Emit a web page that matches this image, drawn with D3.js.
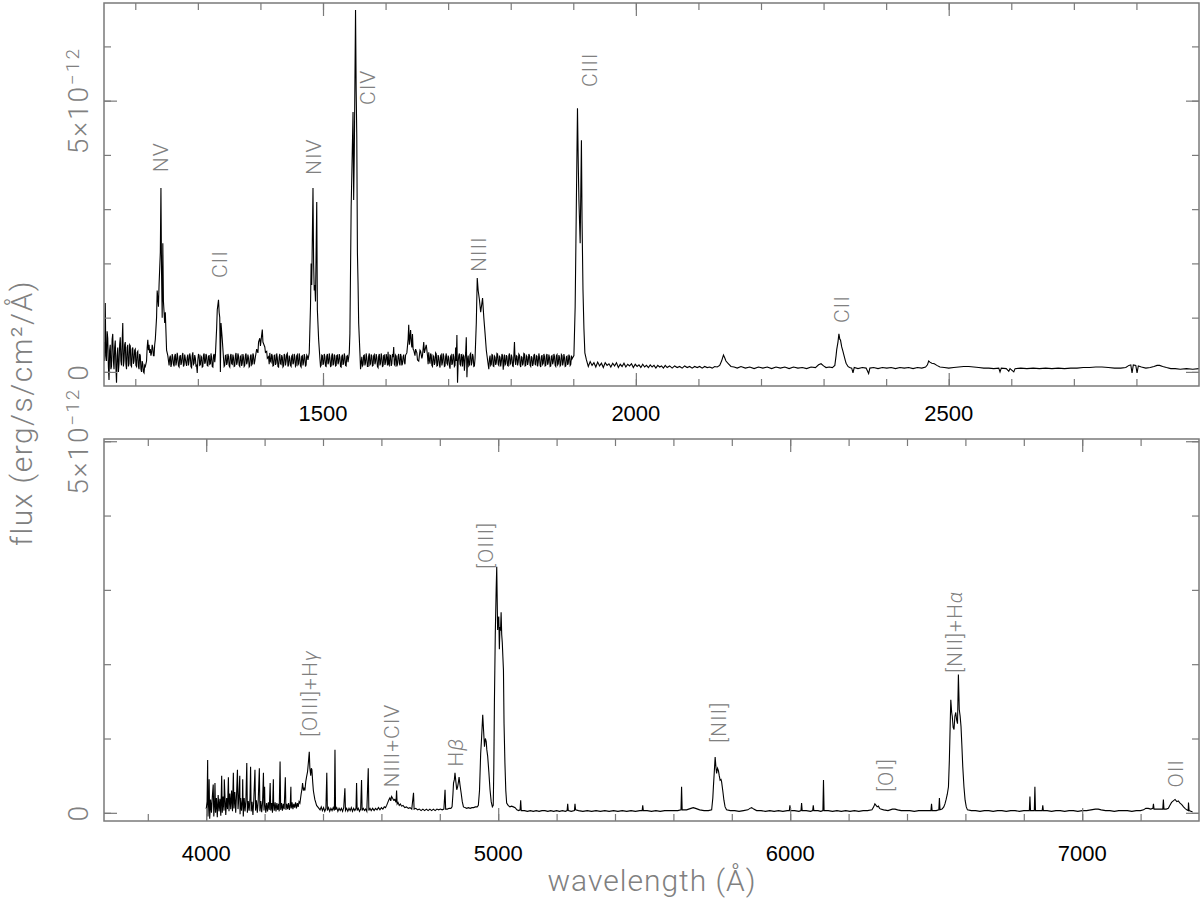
<!DOCTYPE html>
<html>
<head>
<meta charset="utf-8">
<title>Spectrum</title>
<script src="https://cdn.jsdelivr.net/npm/d3@7"></script>
<style>
  body { margin: 0; background: #fff; }
  svg { display: block; }
  .hershey { font-family: Roboto, "DejaVu Sans", sans-serif; font-weight: 300; fill: #808080; }
  .tick-num { font-family: "Liberation Sans", Arial, sans-serif; font-size: 22px; fill: #000; }
  .ticks { color: #7a7a7a; }
</style>
</head>
<body>
<div id="chart"></div>
<script>
// ---- data (flux in units of 1e-12 erg/s/cm2/A) ----

const uvWaveRange = [1150, 2900];
const uvFluxRange = [-0.26, 6.8];
const uvMajorTicks = [1500, 2000, 2500];
const uvFluxTicks = [0, 1, 2, 3, 4, 5, 6];

const optWaveRange = [3650, 7400];
const optFluxRange = [-0.11, 5.03];
const optMajorTicks = [4000, 5000, 6000, 7000];
const optFluxTicks = [0, 1, 2, 3, 4, 5];

const fluxMajorTicks = [0, 5];

const uvSpectrum = [
  [1150,0.55],[1151,0.2],[1152,1.27],[1153,0.3],[1154,0.2],[1155,0.75],[1156,0.62],[1157,0.1],[1158,-0.15],[1159,0.4],
  [1160,0.5],[1161,0.05],[1162,0.1],[1163,0.6],[1164,0.7],[1165,0.2],[1166,0.05],[1167,0.45],[1168,0.58],[1169,0.1],
  [1170,-0.2],[1171,0.3],[1172,0.45],[1173,0.0],[1174,0.15],[1175,0.5],[1176,0.64],[1177,0.2],[1178,0.12],[1179,0.55],
  [1180,0.9],[1181,0.1],[1182,0.2],[1183,0.5],[1184,0.55],[1185,0.15],[1186,0.05],[1187,0.45],[1188,0.5],[1189,0.1],
  [1190,0.15],[1191,0.5],[1192,0.48],[1193,0.12],[1194,0.1],[1195,0.42],[1196,0.45],[1197,0.15],[1198,0.2],[1199,0.4],
  [1200,0.42],[1201,0.12],[1202,0.1],[1203,0.36],[1204,0.38],[1205,0.1],[1206,0.05],[1207,0.33],[1208,0.3],[1209,0.05],
  [1210,0.0],[1211,0.2],[1212,0.15],[1213,0.0],[1214,-0.02],[1215,0.12],[1216,0.1],[1217,0.15],[1218,0.2],[1219,0.45],
  [1220,0.59],[1221,0.4],[1222,0.5],[1223,0.35],[1224,0.42],[1225,0.3],[1226,0.35],[1227,0.5],[1228,0.45],[1229,0.3],
  [1230,0.3],[1231,0.5],[1232,0.6],[1234,1.0],[1235,1.5],[1237,1.2],[1238,1.6],[1240,2.2],[1241,3.39],[1242,1.8],
  [1243,1.0],[1244,2.37],[1245,1.3],[1247,0.9],[1248,1.1],[1250,0.4],[1252,0.3],
  [1254,0.12],[1255,0.26],[1256,0.30],[1257,0.09],[1258,0.15],[1259,0.33],[1260,0.27],[1261,0.14],[1262,0.10],[1263,0.29],
  [1264,0.33],[1265,0.12],[1266,0.19],[1267,0.35],[1268,0.26],[1269,0.11],[1270,0.09],[1271,0.28],[1272,0.31],[1273,0.13],
  [1274,0.17],[1275,0.30],[1276,0.35],[1277,0.10],[1278,0.13],[1279,0.32],[1280,0.24],[1281,0.16],[1282,0.11],[1283,0.27],
  [1284,0.32],[1285,0.12],[1286,0.20],[1287,0.34],[1288,0.28],[1289,0.10],[1290,0.08],[1291,0.30],[1292,0.36],[1293,0.14],
  [1294,0.16],[1295,0.31],[1296,0.25],[1297,0.11],[1298,0.12],[1299,-0.02],[1300,0.22],[1301,0.33],[1302,0.30],[1303,0.12],
  [1304,0.13],[1305,0.29],[1306,0.27],[1307,0.09],[1308,0.10],[1309,0.31],[1310,0.34],[1311,0.15],[1312,0.18],[1313,0.33],
  [1314,0.29],[1315,0.12],[1316,0.11],[1317,0.28],[1318,0.31],[1319,0.14],[1320,0.15],[1321,0.34],[1322,0.26],[1323,0.10],
  [1324,0.09],[1325,0.30],[1326,0.33],[1327,0.18],[1328,0.30],
  [1330,0.8],[1331,1.14],[1333,1.33],[1334,1.1],[1335,1.0],[1336,0.0],[1337,0.9],[1339,0.6],
  [1341,0.25],[1342,0.10],[1343,0.12],[1344,0.30],[1345,0.31],[1346,0.13],[1347,0.17],[1348,0.33],[1349,0.28],[1350,0.11],
  [1351,0.09],[1352,0.29],[1353,0.33],[1354,0.15],[1355,0.14],[1356,0.32],[1357,0.26],[1358,0.10],[1359,0.11],[1360,0.30],
  [1361,0.35],[1362,0.13],[1363,0.18],[1364,0.34],[1365,0.29],[1366,0.12],[1367,0.10],[1368,0.28],[1369,0.30],[1370,0.11],
  [1371,0.16],[1372,0.33],[1373,0.27],[1374,0.10],[1375,0.12],[1376,0.31],[1377,0.34],[1378,0.14],[1379,0.19],[1380,0.32],
  [1381,0.25],[1382,0.09],[1383,0.11],[1384,0.29],[1385,0.32],[1386,0.13],[1387,0.15],[1388,0.34],[1389,0.30],[1390,0.14],
  [1391,0.20],[1392,0.28],
  [1394,0.42],[1396,0.35],[1397,0.55],[1399,0.62],[1400,0.48],[1401,0.58],[1403,0.78],[1404,0.55],[1405,0.52],[1407,0.46],
  [1408,0.36],[1410,0.38],[1411,0.25],[1413,0.28],[1414,0.14],[1415,0.35],[1416,0.20],[1417,0.18],[1418,0.33],[1419,0.29],
  [1420,0.11],[1421,0.12],[1422,0.30],[1423,0.31],[1424,0.13],[1425,0.16],[1426,0.34],[1427,0.26],[1428,0.10],[1429,0.09],
  [1430,0.28],[1431,0.33],[1432,0.15],[1433,0.14],[1434,0.31],[1435,0.27],[1436,0.09],[1437,0.11],[1438,0.33],[1439,0.30],
  [1440,0.12],[1441,0.19],[1442,0.32],[1443,0.34],[1444,0.10],[1445,0.13],[1446,0.30],[1447,0.25],[1448,0.12],[1449,0.10],
  [1450,0.29],[1451,0.31],[1452,0.14],[1453,0.17],[1454,0.33],[1455,0.28],[1456,0.10],[1457,0.12],[1458,0.30],[1459,0.32],
  [1460,0.13],[1461,0.15],[1462,0.34],[1463,0.26],[1464,0.11],[1465,0.09],[1466,0.29],[1467,0.30],[1468,0.12],[1469,0.18],
  [1470,0.33],[1471,0.27],[1472,0.10],[1473,0.13],[1474,0.31],[1475,0.29],[1476,0.22],
  [1478,0.35],[1480,1.2],[1481,2.0],[1482,1.6],[1484,3.39],[1485,2.0],[1486,1.5],[1487,1.6],[1488,1.3],[1490,3.13],
  [1491,1.14],[1493,0.6],
  [1495,0.25],[1496,0.10],[1497,0.12],[1498,0.31],[1499,0.30],[1500,0.13],[1501,0.16],[1502,0.33],[1503,0.28],[1504,0.11],
  [1505,0.10],[1506,0.29],[1507,0.33],[1508,0.14],[1509,0.18],[1510,0.34],[1511,0.26],[1512,0.10],[1513,0.11],[1514,0.30],
  [1515,0.34],[1516,0.12],[1517,0.15],[1518,0.32],[1519,0.29],[1520,0.11],[1521,0.12],[1522,0.30],[1523,0.31],[1524,0.14],
  [1525,0.19],[1526,0.33],[1527,0.27],[1528,0.10],[1529,0.09],[1530,0.28],[1531,0.32],[1532,0.13],[1533,0.16],[1534,0.34],
  [1535,0.28],[1536,0.12],[1537,0.11],[1538,0.29],[1539,0.30],[1540,0.18],
  [1542,0.35],[1543,0.71],[1545,3.04],[1546,3.6],[1548,4.79],[1549,3.17],[1550,4.0],[1552,6.67],[1553,5.2],[1554,4.33],
  [1555,2.2],[1556,1.64],[1557,0.9],[1559,0.35],[1560,0.05],
  [1562,0.28],[1563,0.11],[1564,0.13],[1565,0.30],[1566,0.31],[1567,0.12],[1568,0.17],[1569,0.34],[1570,0.26],[1571,0.10],
  [1572,0.10],[1573,0.29],[1574,0.34],[1575,0.13],[1576,0.15],[1577,0.32],[1578,0.29],[1579,0.11],[1580,0.12],[1581,0.30],
  [1582,0.32],[1583,0.14],[1584,0.19],[1585,0.33],[1586,0.27],[1587,0.10],[1588,0.08],[1589,0.29],[1590,0.33],[1591,0.12],
  [1592,0.16],[1593,0.34],[1594,0.28],[1595,0.10],[1596,0.11],[1597,0.30],[1598,0.31],[1599,0.13],[1600,0.18],[1601,0.33],
  [1602,0.26],[1603,0.12],[1604,0.37],[1605,0.14],[1606,0.12],[1607,0.31],[1608,0.30],[1609,0.11],[1610,0.15],[1611,0.33],
  [1612,0.27],[1613,0.46],[1614,0.14],[1615,0.12],[1616,0.31],[1617,0.29],[1618,0.10],[1619,0.14],[1620,0.29],[1621,0.33],
  [1622,0.16],[1623,0.12],[1624,0.33],[1625,0.28],[1626,0.12],[1627,0.15],[1628,0.28],[1629,0.32],[1630,0.18],[1631,0.14],
  [1632,0.31],[1634,0.35],
  [1636,0.6],[1637,0.87],[1638,0.5],[1640,0.77],[1641,0.55],[1642,0.45],[1643,0.7],[1644,0.42],[1645,0.4],[1647,0.3],
  [1648,0.42],[1650,0.35],[1651,0.22],[1653,0.2],[1655,0.4],[1656,0.38],[1658,0.25],[1659,0.3],[1661,0.55],[1662,0.35],
  [1663,0.4],[1665,0.5],[1667,0.3],[1668,0.14],[1669,0.36],[1670,0.22],[1671,0.15],[1672,0.34],[1673,0.31],[1674,0.12],
  [1675,0.10],[1676,0.30],[1677,0.28],[1678,0.13],[1679,0.17],[1680,0.35],[1681,0.33],[1682,0.11],[1683,0.12],[1684,0.31],
  [1685,0.27],[1686,0.14],[1687,0.08],[1688,0.30],[1689,0.32],[1690,0.12],[1691,0.18],[1692,0.34],[1693,0.29],[1694,0.10],
  [1695,0.11],[1696,0.28],[1697,0.34],[1698,0.16],[1699,0.14],[1700,0.30],[1701,0.26],[1702,0.11],[1703,0.06],[1704,0.29],
  [1705,0.31],[1706,0.13],[1707,0.16],[1708,0.33],[1709,0.28],[1710,0.10],[1711,0.12],[1712,0.45],[1713,0.20],[1714,0.68],
  [1715,-0.2],[1716,0.18],[1717,0.3],[1718,0.34],[1719,0.14],[1720,0.12],[1721,0.33],[1722,0.27],[1723,0.10],[1724,0.31],
  [1725,0.29],[1726,0.02],[1727,0.20],[1728,0.35],[1729,0.64],[1730,-0.1],[1731,0.22],[1732,0.3],[1733,0.11],[1734,0.13],
  [1735,0.32],[1736,0.34],[1737,0.12],[1738,0.17],[1739,0.33],[1740,0.28],[1741,0.10],[1742,0.11],[1743,0.25],
  [1745,0.9],[1746.5,1.73],[1748,1.5],[1750,1.33],[1752,1.1],[1755,1.36],[1757,1.0],[1759,0.71],[1761,0.4],[1763,0.22],
  [1765,0.05],[1766,0.24],[1767,0.3],[1768,0.12],[1769,0.14],[1770,0.32],[1771,0.31],[1772,0.11],[1773,0.10],[1774,0.29],
  [1775,0.27],[1776,0.13],[1777,0.17],[1778,0.34],[1779,0.33],[1780,0.14],[1781,0.12],[1782,0.30],[1783,0.26],[1784,0.10],
  [1785,0.19],[1786,0.33],[1787,0.30],[1788,0.04],[1789,0.20],[1790,0.32],[1791,0.13],[1792,0.15],[1793,0.31],[1794,0.28],
  [1795,0.12],[1796,0.11],[1797,0.30],[1798,0.34],[1799,0.14],[1800,0.16],[1801,0.32],[1802,0.27],[1803,0.11],[1804,0.10],
  [1805,0.30],[1806,0.55],[1807,0.20],[1808,0.13],[1809,0.30],[1810,0.29],[1811,0.12],[1812,0.18],[1813,0.33],[1814,0.31],
  [1815,0.13],[1816,0.09],[1817,0.28],[1818,0.27],[1819,0.12],[1820,0.16],[1821,0.34],[1822,0.33],[1823,0.11],[1824,0.12],
  [1825,0.30],[1826,0.28],[1827,0.13],[1828,0.19],[1829,0.33],[1830,0.30],[1831,0.12],[1832,0.10],[1833,0.29],[1834,0.26],
  [1835,0.11],[1836,0.15],[1837,0.31],[1838,0.32],[1839,0.14],[1840,0.13],[1841,0.30],[1842,0.29],[1843,0.10],[1844,0.18],
  [1845,0.34],[1846,0.27],[1847,0.12],[1848,0.09],[1849,0.28],[1850,0.31],[1851,0.14],[1852,0.16],[1853,0.33],[1854,0.28],
  [1855,0.11],[1856,0.12],[1857,0.30],[1858,0.33],[1859,0.13],[1860,0.17],[1861,0.32],[1862,0.26],[1863,0.10],[1864,0.11],
  [1865,0.29],[1866,0.30],[1867,0.14],[1868,0.19],[1869,0.33],[1870,0.28],[1871,0.12],[1872,0.10],[1873,0.30],[1874,0.32],
  [1875,0.13],[1876,0.15],[1877,0.31],[1878,0.27],[1879,0.11],[1880,0.13],[1881,0.32],[1882,0.30],[1883,0.12],[1884,0.18],
  [1885,0.33],[1886,0.26],[1887,0.10],[1888,0.11],[1889,0.28],[1890,0.29],[1891,0.13],[1892,0.16],[1893,0.32],[1894,0.28],
  [1895,0.12],[1896,0.14],[1897,0.30],[1898,0.24],
  [1901,0.3],[1903,1.2],[1904,2.19],[1905,3.2],[1906.7,4.86],[1908,3.8],[1909,3.17],[1911,2.37],[1912,3.3],[1913,4.27],
  [1914,2.8],[1915.5,1.51],[1917,0.8],[1918.5,0.35],
  [1921,0.22],[1924,0.10],[1927,0.19],[1930,0.12],[1933,0.17],[1936,0.09],[1939,0.18],[1942,0.11],[1945,0.16],[1948,0.08],
  [1951,0.17],[1954,0.12],[1957,0.15],[1960,0.09],[1963,0.16],[1966,0.11],[1969,0.17],[1972,0.08],[1975,0.14],[1978,0.10],
  [1981,0.16],[1984,0.09],[1987,0.14],[1990,0.11],[1993,0.15],[1996,0.08],[1999,0.14],[2002,0.10],[2005,0.13],[2008,0.08],
  [2011,0.14],[2014,0.09],[2017,0.12],[2020,0.08],[2023,0.13],[2026,0.09],[2029,0.12],[2032,0.07],[2035,0.12],[2038,0.09],
  [2041,0.11],[2044,0.07],[2047,0.12],[2050,0.08],[2054,0.11],[2058,0.07],[2062,0.11],[2066,0.08],[2070,0.10],[2074,0.07],
  [2078,0.11],[2082,0.08],[2086,0.10],[2090,0.07],[2094,0.10],[2098,0.08],[2102,0.10],[2106,0.07],[2110,0.10],[2114,0.08],
  [2118,0.09],[2122,0.07],[2126,0.10],[2130,0.09],[2134,0.12],
  [2137,0.2],[2140,0.31],[2142,0.26],[2144,0.2],[2148,0.15],[2152,0.1],[2157,0.09],[2162,0.07],
  [2168,0.1],[2175,0.07],[2182,0.09],[2189,0.06],[2196,0.09],[2203,0.07],[2210,0.09],[2217,0.06],[2224,0.09],[2231,0.07],
  [2238,0.09],[2245,0.06],[2252,0.09],[2259,0.07],[2266,0.08],[2273,0.06],[2280,0.09],[2287,0.08],[2292,0.13],[2296,0.15],
  [2300,0.11],[2304,0.08],[2309,0.09],[2314,0.08],
  [2318,0.12],[2320,0.3],[2321,0.41],[2323,0.55],[2324.5,0.70],[2326,0.6],[2327,0.59],[2329,0.46],[2331,0.38],[2332.5,0.31],
  [2335,0.2],[2336,0.16],[2339,0.1],[2341.5,0.08],[2345,0.07],[2347,-0.02],[2349,0.08],[2355,0.06],[2362,0.08],[2368,0.07],
  [2372,-0.03],[2374,0.07],[2380,0.08],[2387,0.06],[2394,0.08],[2401,0.07],[2408,0.08],[2415,0.06],[2422,0.08],[2429,0.07],
  [2436,0.08],[2443,0.06],[2450,0.08],[2457,0.07],[2463,0.09],
  [2466,0.13],[2468,0.2],[2470,0.18],[2473,0.16],[2477,0.15],[2481,0.12],[2486,0.09],[2493,0.08],[2500,0.07],[2508,0.08],
  [2516,0.09],[2524,0.1],[2532,0.1],[2540,0.09],[2548,0.08],[2556,0.07],[2564,0.07],[2572,0.06],[2580,0.07],[2582,0.0],
  [2584,0.07],[2592,0.06],[2596,0.01],[2598,0.06],[2604,0.0],[2606,0.06],[2615,0.07],[2625,0.06],[2635,0.07],[2645,0.06],
  [2655,0.07],[2665,0.06],[2675,0.07],[2685,0.06],[2695,0.07],[2705,0.07],[2715,0.08],[2725,0.08],[2735,0.09],[2745,0.09],
  [2755,0.08],[2765,0.07],[2775,0.07],[2783,0.08],[2788,0.12],[2791,0.13],[2793,-0.02],[2795,0.13],[2799,0.12],[2801,-0.02],
  [2803,0.11],[2808,0.09],[2815,0.07],[2822,0.08],[2828,0.1],[2833,0.12],[2837,0.12],[2842,0.1],[2848,0.08],[2855,0.06],
  [2862,0.06],[2870,0.05],[2880,0.06],[2890,0.05],[2900,0.06]
];

const optSpectrum = [
  [4000,0.05],[4003,0.15],[4005,0.71],[4006,-0.05],[4009,0.2],[4010,0.45],[4012,-0.08],[4015,0.18],[4018,0.0],[4021,0.22],
  [4024,0.38],[4026,-0.05],[4029,0.17],[4030,0.4],[4032,0.0],[4035,0.2],[4038,-0.06],[4041,0.24],[4044,0.02],[4047,0.19],
  [4050,-0.04],[4053,0.5],[4055,0.0],[4058,0.22],[4061,0.03],[4062,0.45],[4064,0.25],[4067,-0.03],[4070,0.2],[4073,0.05],
  [4076,0.48],[4078,0.02],[4081,0.26],[4084,0.05],[4087,0.3],[4090,0.02],[4093,0.54],[4095,0.06],[4098,0.28],[4101,0.0],
  [4104,0.25],[4107,0.58],[4109,0.05],[4112,0.22],[4115,0.5],[4116,-0.02],[4118,0.2],[4121,0.03],[4124,0.18],[4125,0.45],
  [4127,-0.05],[4130,0.2],[4133,0.02],[4136,0.17],[4139,0.67],[4141,0.0],[4144,0.16],[4147,0.03],[4150,0.2],[4152,0.62],
  [4154,0.02],[4157,0.15],[4160,-0.03],[4163,0.18],[4167,0.58],[4169,0.03],[4172,0.17],[4175,0.0],[4178,0.15],[4182,0.6],
  [4184,0.02],[4187,0.16],[4190,0.01],[4193,0.14],[4196,0.54],[4198,0.03],[4200,0.35],[4201,0.15],[4204,0.0],[4207,0.13],
  [4210,0.02],[4213,0.14],[4216,0.04],[4219,0.4],[4221,0.03],[4224,0.13],[4227,0.0],[4230,0.45],[4231,0.12],[4233,0.03],
  [4236,0.14],[4239,0.02],[4242,0.13],[4245,0.04],[4248,0.12],[4250,0.02],[4253,0.69],[4255,0.04],[4258,0.13],[4261,0.03],
  [4264,0.12],[4267,0.05],[4271,0.48],[4273,0.04],[4276,0.12],[4279,0.05],[4282,0.13],[4285,0.04],[4288,0.12],[4290,0.35],
  [4291,0.06],[4294,0.14],[4297,0.05],[4300,0.12],[4303,0.07],[4306,0.14],[4309,0.06],[4312,0.13],[4315,0.08],[4318,0.15],
  [4321,0.13],
  [4325,0.25],[4328,0.32],[4330,0.4],[4333,0.3],[4336,0.34],[4338,0.3],[4341,0.42],[4344,0.49],[4347,0.55],[4350,0.68],
  [4353,0.82],[4355,0.6],[4358,0.5],[4360,0.6],[4362,0.58],[4365,0.4],[4367,0.3],[4369,0.25],[4372,0.18],[4375,0.14],
  [4378,0.1],[4382,0.08],[4386,0.06],[4390,0.04],
  [4394,0.08],[4398,0.03],[4402,0.07],[4406,0.02],[4410,0.06],[4413,0.54],[4415,0.03],[4419,0.07],[4423,0.02],[4427,0.06],
  [4431,0.03],[4435,0.07],[4439,0.03],[4441,0.85],[4443,0.04],[4447,0.07],[4451,0.02],[4455,0.06],[4459,0.03],[4463,0.06],
  [4467,0.02],[4471,0.07],[4475,0.33],[4477,0.03],[4481,0.06],[4485,0.02],[4489,0.06],[4493,0.03],[4497,0.07],[4501,0.02],
  [4505,0.06],[4509,0.03],[4513,0.06],[4515,0.4],[4517,0.03],[4521,0.06],[4525,0.02],[4529,0.05],[4532,0.44],[4534,0.03],
  [4538,0.06],[4542,0.03],[4546,0.05],[4550,0.02],[4555,0.6],[4557,0.03],[4561,0.06],[4565,0.03],[4570,0.06],[4575,0.03],
  [4580,0.06],[4585,0.04],[4590,0.07],[4595,0.04],[4600,0.07],[4605,0.05],[4610,0.08],[4614,0.07],[4618,0.1],
  [4622,0.14],[4626,0.18],[4629,0.2],[4632,0.16],[4635,0.22],[4638,0.2],[4642,0.17],[4646,0.18],[4650,0.14],[4652,0.3],
  [4654,0.12],[4657,0.14],[4661,0.1],[4665,0.12],[4669,0.09],[4674,0.1],[4680,0.07],[4686,0.08],[4692,0.06],[4698,0.07],
  [4704,0.05],[4710,0.27],[4712,0.05],[4718,0.06],[4724,0.04],[4730,0.05],[4736,0.03],[4742,0.05],[4748,0.03],[4754,0.05],
  [4760,0.03],[4766,0.05],[4772,0.03],[4778,0.05],[4784,0.03],[4790,0.05],[4796,0.04],[4802,0.05],[4808,0.04],[4814,0.05],
  [4818,0.31],[4820,0.05],[4826,0.05],[4832,0.06],[4838,0.06],
  [4842,0.08],[4845,0.25],[4847,0.4],[4850,0.45],[4852,0.54],[4855,0.42],[4858,0.31],[4861,0.35],[4864,0.42],[4866,0.48],
  [4869,0.38],[4873,0.27],[4877,0.15],[4881,0.08],[4886,0.07],[4892,0.06],[4898,0.07],[4904,0.06],[4910,0.07],[4916,0.07],
  [4922,0.08],[4928,0.08],[4932,0.1],
  [4936,0.3],[4940,0.8],[4943,1.0],[4947,1.32],[4950,1.1],[4953,0.89],[4956,1.0],[4959,0.96],[4961,0.85],[4964,0.76],
  [4968,0.55],[4972,0.31],[4976,0.15],[4980,0.08],[4983,0.1],
  [4985,0.6],[4987,1.48],[4990,2.4],[4993,3.0],[4995,3.31],[4998,2.46],[5000,2.6],[5002,2.64],[5004,2.2],[5006,2.5],
  [5008,2.45],[5010,2.7],[5012,2.4],[5014,2.29],[5016,2.1],[5018,1.92],[5020,1.2],[5023,0.67],[5026,0.3],[5029,0.13],
  [5034,0.1],[5040,0.08],[5046,0.09],[5052,0.08],[5058,0.07],[5064,0.04],[5070,0.03],[5075,0.04],[5077,0.17],[5079,0.03],
  [5090,0.03],[5100,0.02],[5110,0.03],[5120,0.02],[5130,0.03],[5140,0.02],[5150,0.03],[5160,0.03],[5170,0.02],[5180,0.03],
  [5190,0.02],[5200,0.03],[5210,0.02],[5220,0.03],[5230,0.02],[5236,0.03],[5238,0.12],[5240,0.03],[5250,0.02],[5261,0.03],
  [5263,0.12],[5265,0.04],[5275,0.03],[5290,0.02],[5305,0.03],[5320,0.02],[5335,0.03],[5350,0.02],[5365,0.03],[5380,0.02],
  [5395,0.03],[5410,0.02],[5425,0.03],[5440,0.02],[5455,0.03],[5470,0.02],[5485,0.03],[5493,0.03],[5495,0.1],[5497,0.03],
  [5510,0.03],[5525,0.02],[5540,0.03],[5555,0.02],[5570,0.03],[5585,0.03],[5600,0.03],[5615,0.03],[5626,0.04],[5628,0.35],
  [5630,0.04],[5645,0.04],[5660,0.06],[5668,0.07],[5676,0.06],[5690,0.04],[5705,0.03],[5720,0.03],[5731,0.04],
  [5735,0.2],[5737,0.35],[5740,0.55],[5743,0.75],[5746,0.6],[5748,0.53],[5751,0.6],[5754,0.57],[5757,0.5],[5760,0.44],
  [5763,0.45],[5765,0.42],[5769,0.3],[5773,0.17],[5777,0.08],[5782,0.04],
  [5795,0.03],[5810,0.03],[5825,0.02],[5840,0.03],[5855,0.04],[5862,0.06],[5868,0.07],[5875,0.05],[5885,0.03],[5900,0.03],
  [5915,0.02],[5930,0.03],[5945,0.02],[5960,0.03],[5975,0.02],[5990,0.03],[5997,0.03],[5999,0.1],[6001,0.03],[6015,0.03],
  [6030,0.02],[6037,0.03],[6039,0.13],[6041,0.03],[6055,0.03],[6070,0.02],[6077,0.03],[6079,0.1],[6081,0.03],[6095,0.03],
  [6105,0.02],[6112,0.03],[6114,0.44],[6116,0.03],[6130,0.03],[6145,0.02],[6160,0.03],[6175,0.02],[6190,0.03],[6205,0.02],
  [6220,0.03],[6235,0.02],[6250,0.03],[6265,0.03],[6280,0.04],
  [6286,0.08],[6290,0.12],[6294,0.1],[6298,0.08],[6302,0.09],[6306,0.06],[6310,0.05],[6320,0.04],[6335,0.03],[6350,0.05],
  [6359,0.05],[6368,0.04],[6380,0.03],[6395,0.03],[6410,0.03],[6425,0.02],[6440,0.03],[6455,0.03],[6470,0.03],[6482,0.03],
  [6484,0.12],[6486,0.03],[6500,0.03],[6509,0.04],[6511,0.2],[6513,0.04],[6520,0.05],
  [6526,0.08],[6530,0.12],[6534,0.18],[6538,0.25],[6542,0.35],[6545,0.7],[6548,1.2],[6550,1.52],[6553,1.35],[6555,1.3],
  [6558,1.15],[6561,1.12],[6564,1.3],[6567,1.35],[6570,1.25],[6573,1.2],[6576,1.86],[6579,1.39],[6582,1.3],[6585,1.16],
  [6588,0.9],[6591,0.62],[6595,0.35],[6599,0.17],[6603,0.08],[6607,0.04],
  [6620,0.03],[6635,0.03],[6650,0.02],[6665,0.03],[6680,0.03],[6695,0.02],[6710,0.03],[6725,0.03],[6740,0.02],[6755,0.03],
  [6770,0.03],[6785,0.02],[6800,0.03],[6812,0.03],[6819,0.03],[6821,0.22],[6823,0.03],[6830,0.03],[6836,0.03],[6838,0.35],
  [6840,0.03],[6850,0.03],[6863,0.03],[6865,0.1],[6867,0.03],[6880,0.03],[6895,0.02],[6910,0.03],[6925,0.03],[6940,0.02],
  [6955,0.03],[6970,0.03],[6985,0.02],[7000,0.03],[7015,0.03],[7030,0.04],[7045,0.05],[7055,0.05],[7065,0.04],[7080,0.03],
  [7095,0.03],[7110,0.02],[7125,0.03],[7140,0.03],[7155,0.03],[7170,0.02],[7185,0.03],[7200,0.03],[7210,0.04],[7218,0.06],
  [7226,0.06],[7235,0.05],[7242,0.06],[7244,0.12],[7246,0.05],[7255,0.05],[7265,0.05],[7276,0.05],[7278,0.18],[7280,0.05],
  [7288,0.05],
  [7295,0.06],[7300,0.1],[7306,0.14],[7312,0.16],[7318,0.18],[7324,0.15],[7329,0.16],[7335,0.13],[7341,0.11],[7347,0.08],
  [7352,0.06],[7358,0.04],[7363,0.03],[7364,0.14],[7366,0.03],[7372,0.02],[7378,0.01]
];

// line identifications: label anchored at (wavelength, flux)
const uvLines = [
  { name: 'NV',   wave: 1240, flux: 3.68 },
  { name: 'CII',  wave: 1334, flux: 1.73 },
  { name: 'NIV',  wave: 1485, flux: 3.63 },
  { name: 'CIV',  wave: 1571, flux: 4.92 },
  { name: 'NIII', wave: 1749, flux: 1.84 },
  { name: 'CIII', wave: 1926, flux: 5.25 },
  { name: 'CII',  wave: 2328, flux: 0.90 },
];

const optLines = [
  { name: '[OIII]+Hγ', wave: 4352, flux: 1.02 },
  { name: 'NIII+CIV',  wave: 4636, flux: 0.34 },
  { name: 'Hβ',        wave: 4852, flux: 0.62 },
  { name: '[OIII]',    wave: 4958, flux: 3.28 },
  { name: '[NII]',     wave: 5753, flux: 0.94 },
  { name: '[OI]',      wave: 6325, flux: 0.28 },
  { name: '[NII]+Hα',  wave: 6564, flux: 1.88 },
  { name: 'OII',       wave: 7321, flux: 0.34 },
];

// ---- layout ----
const width = 1200;
const height = 900;

const panels = [
  {
    id: 'uv', data: uvSpectrum, lines: uvLines,
    xDomain: uvWaveRange, yDomain: uvFluxRange,
    xMajor: uvMajorTicks, xMinor: d3.range(1200, 2900, 100),
    yMinor: uvFluxTicks,
    box: { left: 104, right: 1199, top: 3, bottom: 386 },
    labelOffset: 35,
  },
  {
    id: 'opt', data: optSpectrum, lines: optLines,
    xDomain: optWaveRange, yDomain: optFluxRange,
    xMajor: optMajorTicks, xMinor: d3.range(3800, 7400, 200),
    yMinor: optFluxTicks,
    box: { left: 104, right: 1199, top: 439, bottom: 821 },
    labelOffset: 40,
  },
];

const svg = d3.select('#chart')
  .append('svg')
  .attr('width', width)
  .attr('height', height)
  .attr('viewBox', `0 0 ${width} ${height}`);

/**
 * Inward ticks on one side of a panel
 */
function addTicks(axisFn, scale, values, size, transform) {
  svg.append('g')
    .attr('class', 'ticks')
    .attr('transform', transform)
    .call(axisFn(scale).tickValues(values).tickSize(-size).tickFormat(''))
    .call(g => g.select('.domain').remove())
    .selectAll('line')
    .attr('stroke-width', 1.2);
}

/**
 * Label text with italic greek letters
 */
function addLabelText(sel, text) {
  const parts = text.split(/([αβγ])/).filter(s => s.length);
  parts.forEach(p => {
    const t = sel.append('tspan').text(p);
    if (/[αβγ]/.test(p)) t.attr('font-style', 'italic');
  });
}

function drawPanel(p) {
  const b = p.box;
  const x = d3.scaleLinear().domain(p.xDomain).range([b.left, b.right]);
  const y = d3.scaleLinear().domain(p.yDomain).range([b.bottom, b.top]);

  // clip for the spectrum
  svg.append('clipPath')
    .attr('id', `clip-${p.id}`)
    .append('rect')
    .attr('x', b.left).attr('y', b.top)
    .attr('width', b.right - b.left).attr('height', b.bottom - b.top);

  const line = d3.line()
    .x(d => x(d[0]))
    .y(d => y(d[1]));

  svg.append('path')
    .datum(p.data)
    .attr('clip-path', `url(#clip-${p.id})`)
    .attr('fill', 'none')
    .attr('stroke', '#000')
    .attr('stroke-width', 1.1)
    .attr('d', line);

  // ticks, all four sides
  addTicks(d3.axisBottom, x, p.xMinor, 7, `translate(0,${b.bottom})`);
  addTicks(d3.axisBottom, x, p.xMajor, 13, `translate(0,${b.bottom})`);
  addTicks(d3.axisTop, x, p.xMinor, 7, `translate(0,${b.top})`);
  addTicks(d3.axisTop, x, p.xMajor, 13, `translate(0,${b.top})`);
  addTicks(d3.axisLeft, y, p.yMinor, 7, `translate(${b.left},0)`);
  addTicks(d3.axisLeft, y, fluxMajorTicks, 13, `translate(${b.left},0)`);
  addTicks(d3.axisRight, y, p.yMinor, 7, `translate(${b.right},0)`);
  addTicks(d3.axisRight, y, fluxMajorTicks, 13, `translate(${b.right},0)`);

  // frame
  svg.append('rect')
    .attr('x', b.left).attr('y', b.top)
    .attr('width', b.right - b.left).attr('height', b.bottom - b.top)
    .attr('fill', 'none')
    .attr('stroke', '#7a7a7a')
    .attr('stroke-width', 1.5);

  // wavelength tick labels
  svg.append('g')
    .selectAll('text')
    .data(p.xMajor)
    .join('text')
    .attr('class', 'tick-num')
    .attr('x', d => x(d))
    .attr('y', b.bottom + p.labelOffset)
    .attr('text-anchor', 'middle')
    .text(d => d);

  // flux tick labels (rotated)
  fluxMajorTicks.forEach(v => {
    const t = svg.append('text')
      .attr('class', 'hershey')
      .attr('font-size', 28)
      .attr('letter-spacing', 2)
      .attr('text-anchor', 'middle')
      .attr('transform', `translate(88,${y(v)}) rotate(-90)`);
    if (v === 0) {
      t.text('0');
    } else {
      t.append('tspan').text(`${v}×10`);
      t.append('tspan').attr('dy', '-0.5em').attr('font-size', 19).text('−12');
    }
  });

  // line identifications
  p.lines.forEach(l => {
    const t = svg.append('text')
      .attr('class', 'hershey')
      .attr('font-size', 21)
      .attr('letter-spacing', 1)
      .attr('dy', '0.36em')
      .attr('transform', `translate(${x(l.wave)},${y(l.flux)}) rotate(-90)`);
    addLabelText(t, l.name);
  });
}

panels.forEach(drawPanel);

// axis titles
svg.append('text')
  .attr('class', 'hershey')
  .attr('font-size', 30)
  .attr('letter-spacing', 1)
  .attr('text-anchor', 'middle')
  .attr('x', 652)
  .attr('y', 891)
  .text('wavelength (Å)');

svg.append('text')
  .attr('class', 'hershey')
  .attr('font-size', 30)
  .attr('letter-spacing', 1.5)
  .attr('text-anchor', 'middle')
  .attr('transform', 'translate(32,413) rotate(-90)')
  .text('flux (erg/s/cm²/Å)');
</script>
</body>
</html>
